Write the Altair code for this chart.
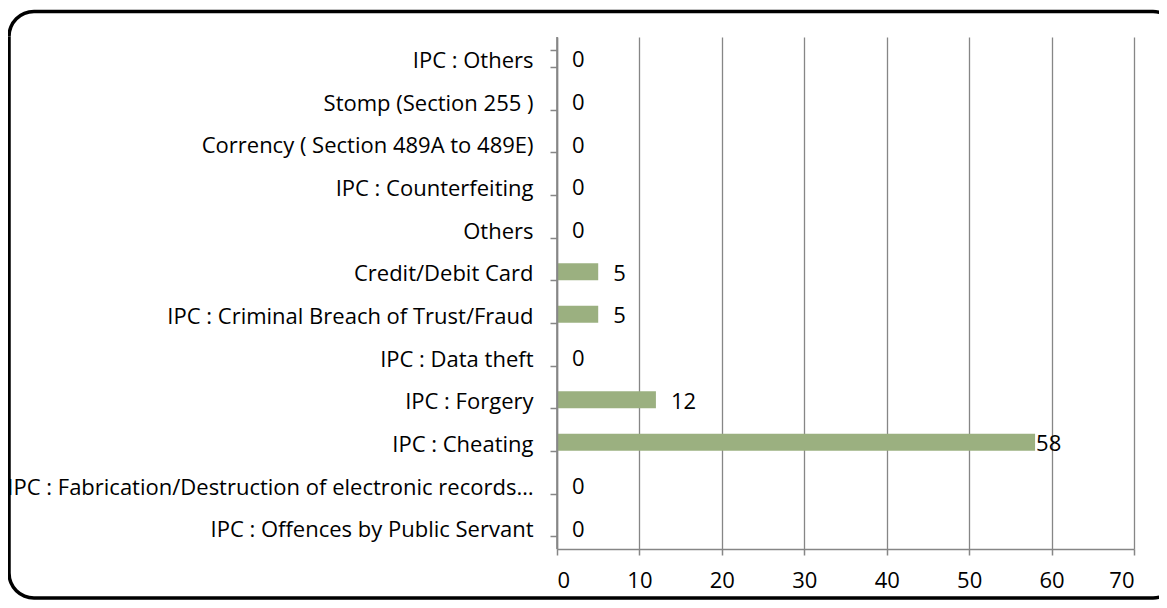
import altair as alt
import pandas as pd
import math

categories = [
    "IPC : Others",
    "Stomp (Section 255 )",
    "Corrency ( Section 489A to 489E)",
    "IPC : Counterfeiting",
    "Others",
    "Credit/Debit Card",
    "IPC : Criminal Breach of Trust/Fraud",
    "IPC : Data theft",
    "IPC : Forgery",
    "IPC : Cheating",
    "IPC : Fabrication/Destruction of electronic records\u2026",
    "IPC : Offences by Public Servant",
]
values = [0, 0, 0, 0, 0, 5, 5, 0, 12, 58, 0, 0]
x_ticks = [0, 10, 20, 30, 40, 50, 60, 70]

df = pd.DataFrame({"category": categories, "value": values})

FONT = "Open Sans"
FS = 22
GRAY = "#868686"

y_enc = alt.Y(
    "category:N",
    sort=categories,
    scale=alt.Scale(paddingInner=0.6, paddingOuter=0.3),
    axis=alt.Axis(
        title=None,
        tickBand="extent",
        tickSize=7,
        tickColor=GRAY,
        tickWidth=1.5,
        domainColor=GRAY,
        domainWidth=1.5,
        labelPadding=17,
        labelOffset=2,
        labelLimit=800,
        labelFont=FONT,
        labelFontSize=FS,
        labelColor="#000000",
        grid=False,
        zindex=1,
    ),
)
x_enc = alt.X(
    "value:Q",
    scale=alt.Scale(domain=[0, 70]),
    axis=alt.Axis(
        title=None,
        values=x_ticks,
        grid=True,
        gridColor=GRAY,
        gridWidth=1.3,
        tickSize=6,
        tickColor=GRAY,
        tickWidth=1.5,
        domainColor=GRAY,
        domainWidth=1.5,
        labelPadding=15,
        labelFont=FONT,
        labelFontSize=FS,
        labelColor="#000000",
    ),
)

base = alt.Chart(df)

bars = base.mark_bar(color="#9bb080").encode(x=x_enc, y=y_enc)

one = alt.Data(values=[{"b": 1}])

# category axis line at zero
zero_line = alt.Chart(one).mark_rule(color=GRAY, strokeWidth=1.6).encode(
    x=alt.datum(0)
)

labels_main = base.transform_filter("datum.value < 50").mark_text(
    align="left", baseline="middle", dx=15, dy=2, font=FONT, fontSize=FS, color="#000000"
).encode(x="value:Q", y=alt.Y("category:N", sort=categories), text="value:Q")

labels_end = base.transform_filter("datum.value >= 50").mark_text(
    align="left", baseline="middle", dx=1, dy=2, font=FONT, fontSize=FS, color="#000000"
).encode(x="value:Q", y=alt.Y("category:N", sort=categories), text="value:Q")

# decorative rounded frame around the whole chart
BW = 3.5
R = 25


def rule(x1, x2, y1, y2):
    return alt.Chart(one).mark_rule(color="#000000", strokeWidth=BW).encode(
        x=alt.value(x1), x2=alt.value(x2), y=alt.value(y1), y2=alt.value(y2)
    )


def corner(cx, cy, t1, t2):
    return alt.Chart(one).mark_arc(
        color="#000000", theta=t1, theta2=t2, radius=R + BW / 2, radius2=R - BW / 2
    ).encode(x=alt.value(cx), y=alt.value(cy))


L, T, B, RX = -548, -25.5, 561, 596
frame = [
    rule(L + R, RX, T, T),
    rule(L + R, RX, B, B),
    rule(L, L, T + R, B - R),
    corner(L + R, T + R, 1.5 * math.pi, 2 * math.pi),
    corner(L + R, B - R, math.pi, 1.5 * math.pi),
    corner(RX, T + R, 0, 0.55),
    corner(RX, B - R, math.pi - 0.55, math.pi),
]

chart = alt.layer(bars, zero_line, labels_main, labels_end, *frame).properties(
    width=577,
    height=512,
    autosize=alt.AutoSizeParams(type="none"),
    padding={"left": 549, "top": 29, "right": 25, "bottom": 51},
    background="#ffffff",
).configure_view(strokeWidth=0)

chart.save("out.html", embed_options={"renderer": "svg", "actions": False})
